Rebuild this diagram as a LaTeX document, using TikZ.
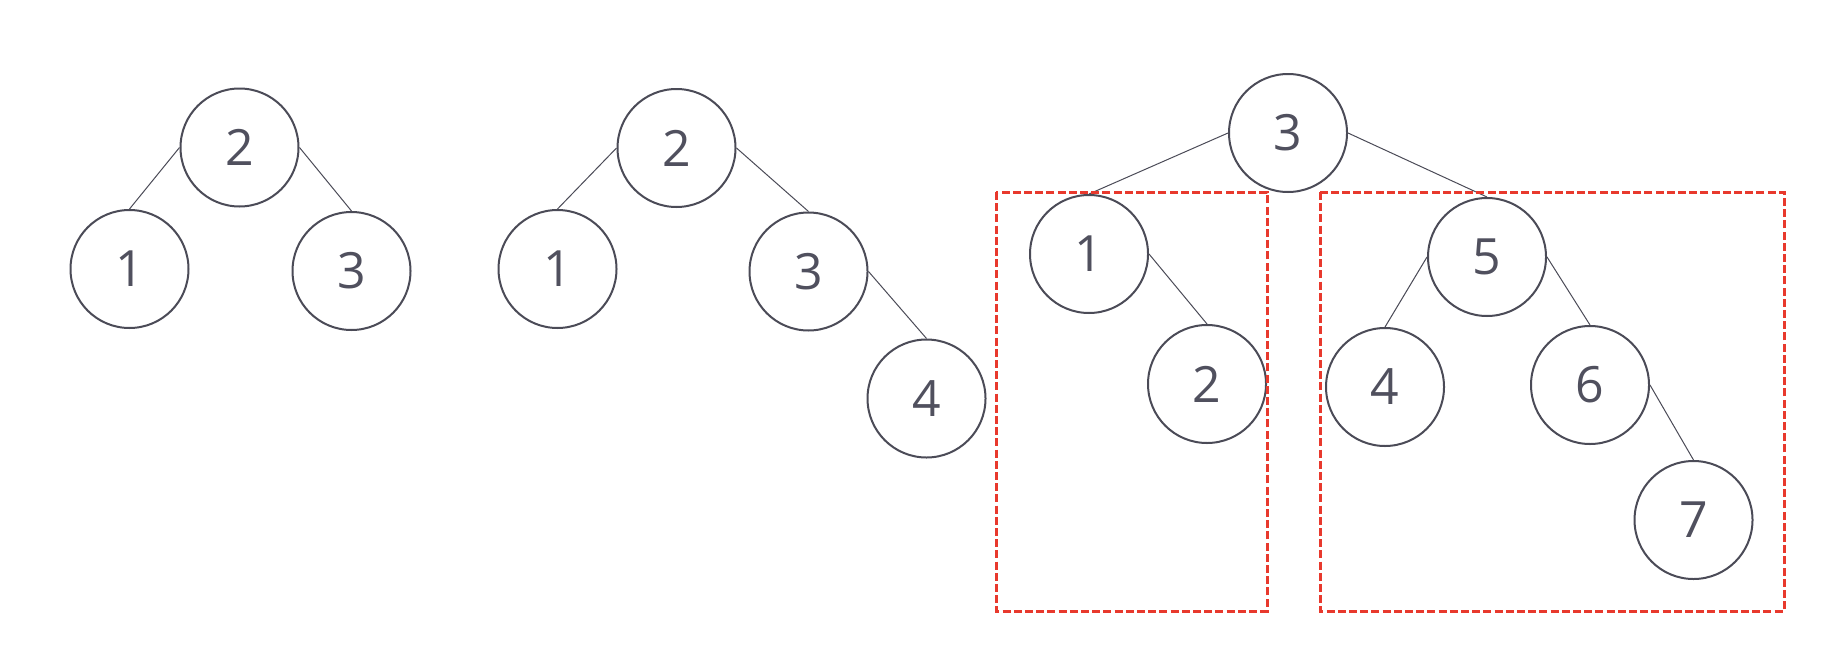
\documentclass[tikz,border=0pt]{standalone}
\usepackage{fontspec}
\setmainfont{Open Sans}
\usetikzlibrary{positioning}
\definecolor{nodegray}{HTML}{4B4B57}
\definecolor{textgray}{HTML}{50505E}
\definecolor{boxred}{HTML}{E8392D}

\begin{document}
\begin{tikzpicture}[x=0.5pt, y=-0.5pt,
  treenode/.style={circle, draw=nodegray, line width=1pt, minimum size=59pt, inner sep=0pt,
    text=textgray, font=\fontsize{25}{30}\selectfont},
  link/.style={draw=nodegray, line width=0.5pt},
  subtree/.style={draw=boxred, line width=1.5pt, dash pattern=on 4pt off 1.6pt}]
\useasboundingbox (0,0) rectangle (1840,664);
% first tree
\node[treenode] (a2) at (239.5,147.5) {2};
\node[treenode] (a1) at (129.5,269) {1};
\node[treenode] (a3) at (351.5,271) {3};
\draw[link] (a2.west) -- (a1.north);
\draw[link] (a2.east) -- (a3.north);
% second tree
\node[treenode] (b2) at (676.5,148) {2};
\node[treenode] (b1) at (557.5,269) {1};
\node[treenode] (b3) at (808.5,271.5) {3};
\node[treenode] (b4) at (926.5,398.5) {4};
\draw[link] (b2.west) -- (b1.north);
\draw[link] (b2.east) -- (b3.north);
\draw[link] (b3.east) -- (b4.north);
% third tree
\node[treenode] (c3) at (1288,133) {3};
\node[treenode] (c1) at (1089,254) {1};
\node[treenode] (c2) at (1207,384) {2};
\node[treenode] (c5) at (1487,257) {5};
\node[treenode] (c4) at (1385,387) {4};
\node[treenode] (c6) at (1590,385) {6};
\node[treenode] (c7) at (1693.5,520) {7};
\draw[link] (c3.west) -- (c1.north);
\draw[link] (c3.east) -- (c5.north);
\draw[link] (c1.east) -- (c2.north);
\draw[link] (c5.west) -- (c4.north);
\draw[link] (c5.east) -- (c6.north);
\draw[link] (c6.east) -- (c7.north);
% subtrees
\draw[subtree] (996,192) rectangle (1267,611);
\draw[subtree] (1320,192) rectangle (1784,611);
\end{tikzpicture}
\end{document}
